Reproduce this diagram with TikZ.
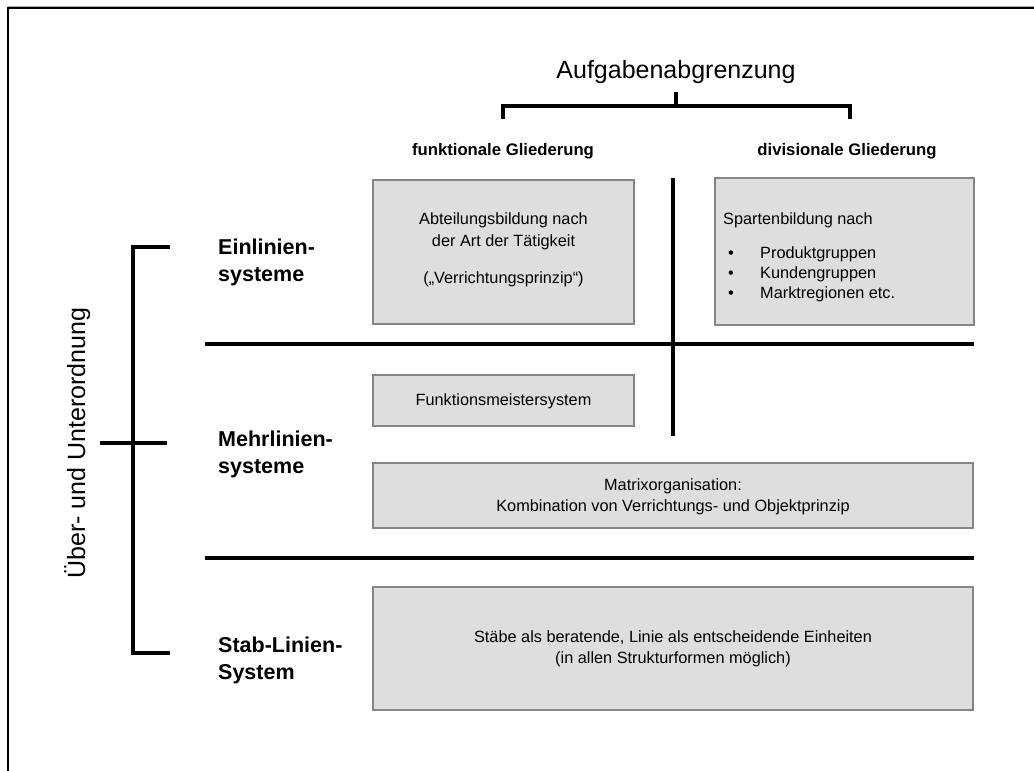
\documentclass[tikz,border=0pt]{standalone}
\usepackage{fontspec}
\setmainfont{Liberation Sans}
\begin{document}
\begin{tikzpicture}[x=1pt,y=-1pt,
  panel/.style={draw=black!48,fill=black!13,line width=1.6pt},
  boxtext/.style={inner sep=0pt,align=center,font=\fontsize{16.3}{21.5}\selectfont},
  rowlabel/.style={inner sep=0pt,anchor=north west,align=left,font=\fontsize{21.5}{27}\selectfont\bfseries},
  colhead/.style={inner sep=0pt,anchor=base,font=\fontsize{16.7}{20}\selectfont\bfseries},
  divider/.style={line width=3.6pt},
  bracket/.style={line width=3.6pt}]
\useasboundingbox (0,0) rectangle (1034,771);
\fill[white] (0,0) rectangle (1034,771);

% frame (continues past the right and lower edges)
\coordinate (fTR) at (1040,8);
\coordinate (fTL) at (8,8);
\coordinate (fBL) at (8,780);
\draw[black!35,line width=1pt] (8,6.5) -- (1040,6.5);
\draw[line width=2pt] (fTR) -- (fTL) -- (fBL);

% headings of the two columns
\node[inner sep=0pt,anchor=base,font=\fontsize{25}{30}\selectfont] (aufg) at (676,78) {Aufgabenabgrenzung};
\node[colhead] (funk) at (503,155) {funktionale Gliederung};
\node[colhead] (divi) at (847,155) {divisionale Gliederung};

% top bracket
\coordinate (bStem) at (676,92);
\coordinate (bMid) at (676,106);
\coordinate (bL) at (503,106);
\coordinate (bR) at (850,106);
\coordinate (bLd) at (503,119);
\coordinate (bRd) at (850,119);
\draw[bracket] (bStem) -- (bMid);
\draw[bracket] (bLd) -- (bL) -- (bR) -- (bRd);

% panels
\node[panel,minimum width=261pt,minimum height=144pt] (abt) at (503.5,252) {};
\node[panel,minimum width=259pt,minimum height=147pt] (spa) at (844.5,251.5) {};
\node[panel,minimum width=261pt,minimum height=51pt] (fms) at (503.5,400.5) {};
\node[panel,minimum width=600pt,minimum height=65pt] (mat) at (673,495.5) {};
\node[panel,minimum width=600pt,minimum height=123pt] (sta) at (673,648.5) {};

% panel texts
\node[boxtext,anchor=north,font=\fontsize{16.3}{22}\selectfont] (abtT) at (503.5,212)
  {Abteilungsbildung nach\\der Art der Tätigkeit\\[15pt](„Verrichtungsprinzip“)};
\node[boxtext,anchor=north west,align=left,font=\fontsize{16.3}{20}\selectfont] (spaT) at (723,212)
  {Spartenbildung nach\\[14pt]
   \hspace*{5pt}\makebox[32pt][l]{•}Produktgruppen\\
   \hspace*{5pt}\makebox[32pt][l]{•}Kundengruppen\\
   \hspace*{5pt}\makebox[32pt][l]{•}Marktregionen etc.};
\node[boxtext] (fmsT) at (503.5,401) {Funktionsmeistersystem};
\node[boxtext] (matT) at (673,497) {Matrixorganisation:\\Kombination von Verrichtungs- und Objektprinzip};
\node[boxtext] (staT) at (673,649) {Stäbe als beratende, Linie als entscheidende Einheiten\\(in allen Strukturformen möglich)};

% dividing lines
\coordinate (vTop) at (673,178);
\coordinate (vBot) at (673,436);
\draw[divider] (vTop) -- (vBot);
\coordinate (h1L) at (205,344);
\coordinate (h1R) at (974,344);
\coordinate (h2L) at (205,558);
\coordinate (h2R) at (974,558);
\draw[divider] (h1L) -- (h1R);
\draw[divider] (h2L) -- (h2R);

% row labels
\node[rowlabel] (ein) at (218,239) {Einlinien-\\systeme};
\node[rowlabel] (meh) at (218,431) {Mehrlinien-\\systeme};
\node[rowlabel] (sta2) at (218,637) {Stab-Linien-\\System};

% left bracket
\coordinate (lTop) at (170,247);
\coordinate (lTopC) at (133,247);
\coordinate (lBotC) at (133,653);
\coordinate (lBot) at (170,653);
\coordinate (lMidL) at (100,443);
\coordinate (lMidR) at (167,443);
\draw[bracket] (lTop) -- (lTopC) -- (lBotC) -- (lBot);
\draw[bracket] (lMidL) -- (lMidR);

\node[inner sep=0pt,anchor=base,rotate=90,font=\fontsize{25}{30}\selectfont] (ueber) at (85,443) {Über- und Unterordnung};
\end{tikzpicture}
\end{document}
